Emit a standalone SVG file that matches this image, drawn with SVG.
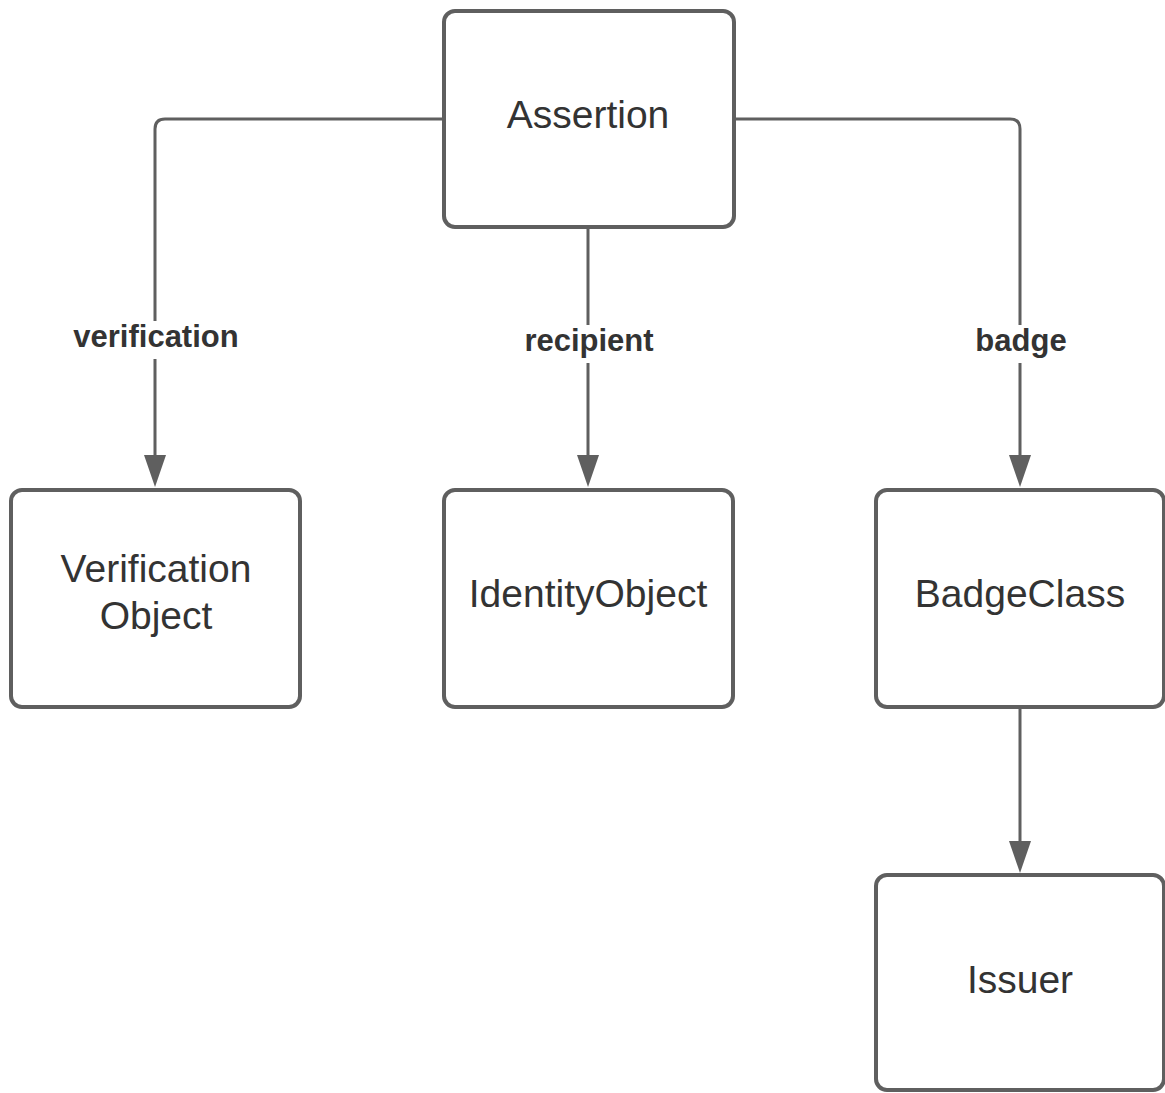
<svg xmlns="http://www.w3.org/2000/svg" width="1165" height="1093" viewBox="0 0 1165 1093">
<style>
.box{fill:#ffffff;stroke:#5f5f5f;stroke-width:4}
.node{font-family:"Liberation Sans",Arial,sans-serif;font-size:39px;fill:#333333;text-anchor:middle}
.lbl{font-family:"Liberation Sans",Arial,sans-serif;font-size:31px;font-weight:bold;fill:#333333;text-anchor:middle}
.edge{fill:none;stroke:#5f5f5f;stroke-width:3}
.head{fill:#5f5f5f}
</style>
<rect width="1165" height="1093" fill="#ffffff"/>
<g id="connectors">
<path class="edge" d="M444,119 H165 Q155,119 155,129 V470"/>
<path class="edge" d="M588,227 V470"/>
<path class="edge" d="M734,119 H1010 Q1020,119 1020,129 V470"/>
<path class="edge" d="M1020,707 V856"/>
<polygon class="head" points="144,455 166,455 155,487"/>
<polygon class="head" points="577,455 599,455 588,487"/>
<polygon class="head" points="1009,455 1031,455 1020,487"/>
<polygon class="head" points="1009,841 1031,841 1020,873"/>
<g id="label-verification">
<rect x="66" y="321" width="179" height="38" fill="#ffffff"/>
<text class="lbl" x="156" y="347">verification</text>
</g>
<g id="label-recipient">
<rect x="516" y="325" width="146" height="38" fill="#ffffff"/>
<text class="lbl" x="589" y="351">recipient</text>
</g>
<g id="label-badge">
<rect x="968" y="325" width="106" height="38" fill="#ffffff"/>
<text class="lbl" x="1021" y="351">badge</text>
</g>
</g>
<g id="node-assertion">
<rect class="box" x="444" y="11" width="290" height="216" rx="11"/>
<text class="node" x="588" y="128">Assertion</text>
</g>
<g id="node-verification">
<rect class="box" x="11" y="490" width="289" height="217" rx="11"/>
<text class="node" x="156" y="582">Verification</text>
<text class="node" x="156" y="629">Object</text>
</g>
<g id="node-identity">
<rect class="box" x="444" y="490" width="289" height="217" rx="11"/>
<text class="node" x="588" y="607">IdentityObject</text>
</g>
<g id="node-badgeclass">
<rect class="box" x="876" y="490" width="288" height="217" rx="11"/>
<text class="node" x="1020" y="607">BadgeClass</text>
</g>
<g id="node-issuer">
<rect class="box" x="876" y="875" width="288" height="215" rx="11"/>
<text class="node" x="1020" y="993">Issuer</text>
</g>
</svg>
